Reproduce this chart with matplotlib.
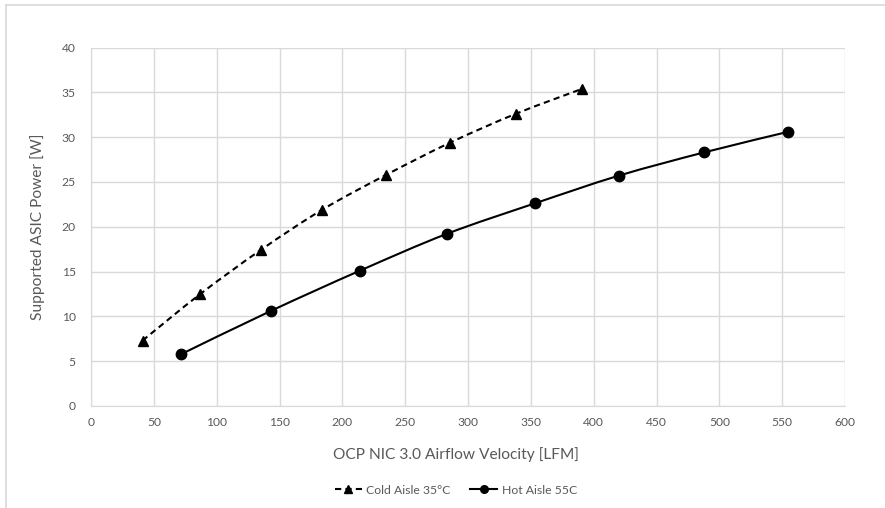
import numpy as np
import matplotlib.pyplot as plt
from matplotlib.path import Path
from matplotlib.patches import PathPatch
from matplotlib.lines import Line2D

# --- data ---
cold_x = [41, 87, 135, 184, 235, 286, 338, 391]
cold_y = [7.3, 12.5, 17.4, 21.9, 25.8, 29.4, 32.6, 35.4]
hot_x = [72, 143, 214, 283, 353, 420, 488, 555]
hot_y = [5.8, 10.6, 15.1, 19.2, 22.6, 25.7, 28.3, 30.6]

x_ticks = [0, 50, 100, 150, 200, 250, 300, 350, 400, 450, 500, 550, 600]
y_ticks = [0, 5, 10, 15, 20, 25, 30, 35, 40]

GRAY = '#595959'
GRID = '#d9d9d9'
plt.rcParams['font.family'] = ['Lato', 'DejaVu Sans']


def smooth_path(xs, ys):
    # Excel-style smoothed line: cubic Bezier through the points (Catmull-Rom)
    pts = np.column_stack([xs, ys]).astype(float)
    verts = [pts[0]]
    codes = [Path.MOVETO]
    n = len(pts)
    for i in range(n - 1):
        p0 = pts[i - 1] if i > 0 else pts[i]
        p1, p2 = pts[i], pts[i + 1]
        p3 = pts[i + 2] if i + 2 < n else pts[i + 1]
        c1 = p1 + (p2 - p0) / 6.0
        c2 = p2 - (p3 - p1) / 6.0
        verts += [c1, c2, p2]
        codes += [Path.CURVE4] * 3
    return Path(verts, codes)


fig = plt.figure(figsize=(8.85, 5.08), dpi=100)
ax = fig.add_axes([91 / 885, 1 - 406 / 508, (845 - 91) / 885, (406 - 47.5) / 508])

ax.add_patch(PathPatch(smooth_path(cold_x, cold_y), fill=False, edgecolor='black',
                       lw=1.5, linestyle=(0, (3, 2)), zorder=3))
ax.add_patch(PathPatch(smooth_path(hot_x, hot_y), fill=False, edgecolor='black',
                       lw=1.5, zorder=3))
ax.plot(cold_x, cold_y, linestyle='none', marker='^', markersize=7.5, color='black', zorder=4)
ax.plot(hot_x, hot_y, linestyle='none', marker='o', markersize=7.5, color='black', zorder=4)

ax.set_xlim(0, 600)
ax.set_ylim(0, 40)
ax.set_xticks(x_ticks)
ax.set_yticks(y_ticks)
ax.grid(True, color=GRID, lw=1)
ax.set_axisbelow(True)
for s in ax.spines.values():
    s.set_visible(False)
ax.spines['left'].set_visible(True)
ax.spines['bottom'].set_visible(True)
ax.spines['left'].set_color(GRID)
ax.spines['bottom'].set_color(GRID)
ax.tick_params(length=0, colors=GRAY, labelsize=8.7)
ax.tick_params(axis='y', pad=11)
ax.tick_params(axis='x', pad=8)

fig.text(456 / 885, 1 - 455 / 508, 'OCP NIC 3.0 Airflow Velocity [LFM]', color=GRAY,
         fontsize=11.2, ha='center', va='center')
fig.text(38 / 885, 1 - 227 / 508, 'Supported ASIC Power [W]', color=GRAY,
         fontsize=11.2, ha='center', va='center', rotation=90)

handles = [
    Line2D([], [], color='black', lw=1.5, linestyle=(0, (3, 2)), marker='^', markersize=5.5),
    Line2D([], [], color='black', lw=1.5, marker='o', markersize=5.5),
]
leg = fig.legend(handles, ['Cold Aisle 35°C', 'Hot Aisle 55C'], ncol=2, frameon=False,
                 loc='center', bbox_to_anchor=(456 / 885, 1 - 490 / 508), fontsize=8.8,
                 handlelength=2.2, columnspacing=1.6, handletextpad=0.4)
for t in leg.get_texts():
    t.set_color(GRAY)

# light chart frame (only the top and left edges show in the crop)
fig.add_artist(Line2D([6 / 885, 6 / 885], [0, 1 - 5 / 508], color=GRID, lw=1.2))
fig.add_artist(Line2D([6 / 885, 1], [1 - 5 / 508, 1 - 5 / 508], color=GRID, lw=1.2))

fig.savefig('out.png', dpi=100)
